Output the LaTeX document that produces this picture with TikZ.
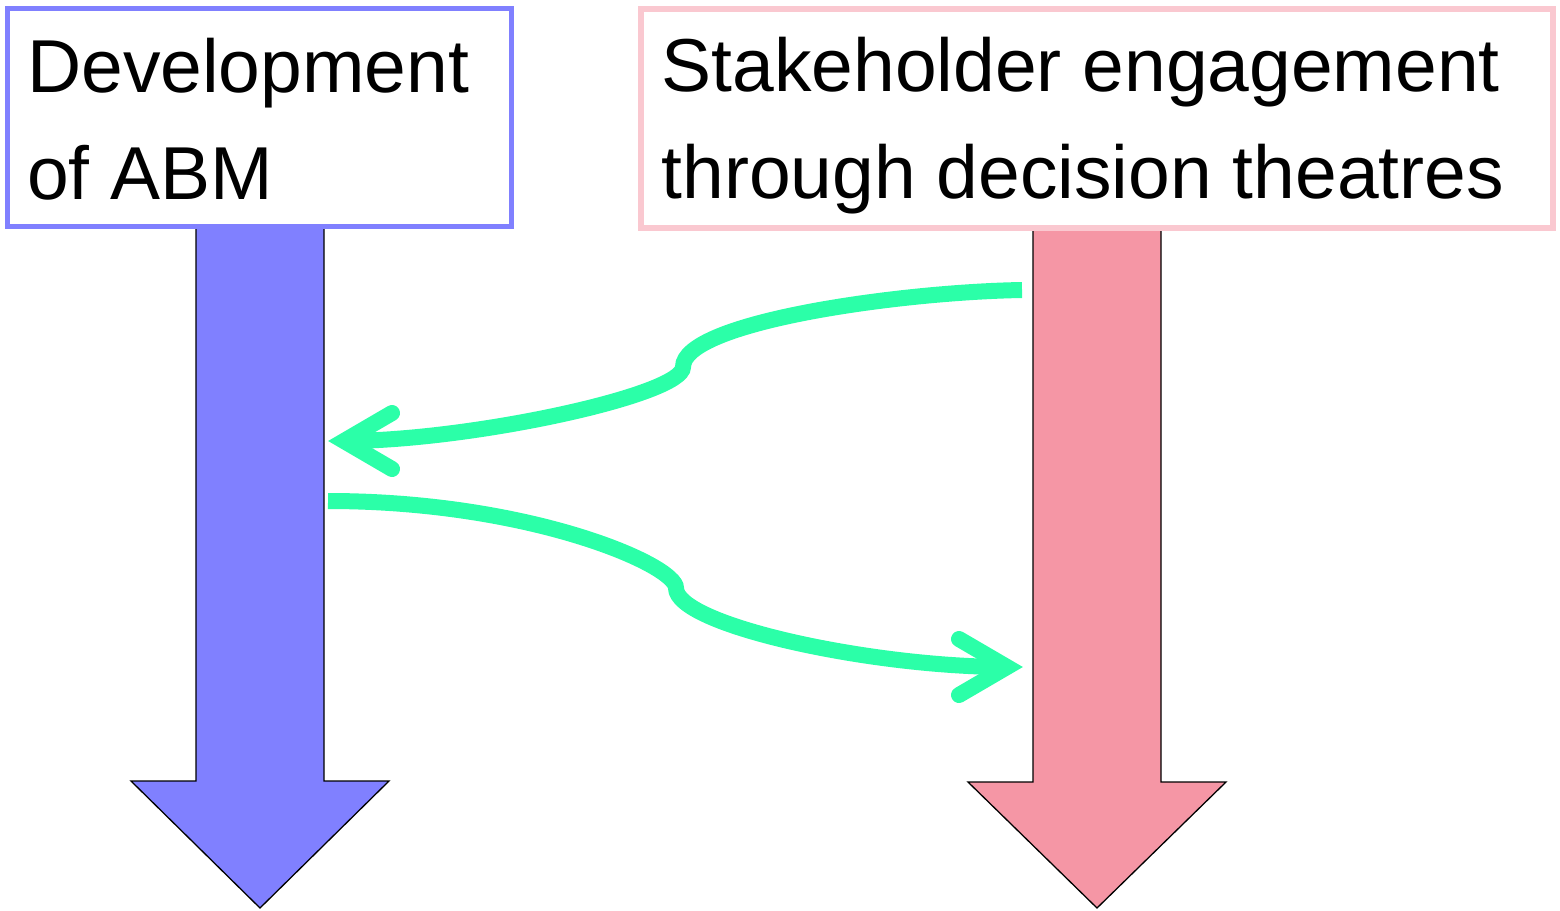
\documentclass[tikz,border=0pt]{standalone}
\usepackage{fontspec}
\setmainfont{Liberation Sans}
\usetikzlibrary{calc}
\definecolor{boxblue}{RGB}{128,128,255}
\definecolor{boxpink}{RGB}{250,200,208}
\definecolor{arrpink}{RGB}{245,150,165}
\definecolor{flowgreen}{RGB}{43,255,168}
\begin{document}
\begin{tikzpicture}[x=1pt,y=-1pt,
  bigarrow/.style={draw=black, line width=1.3pt, line join=miter},
  titlebox/.style={draw, fill=white, rectangle, inner sep=0pt, outer sep=0pt, anchor=north west},
  lbl/.style={font=\fontsize{75}{107}\selectfont, align=left, anchor=north west, inner sep=0pt},
  flow/.style={draw=flowgreen, line width=16pt, line cap=butt},
  barb/.style={draw=flowgreen, line width=16pt, line cap=round, line join=miter, miter limit=10}
]
\useasboundingbox (0,0) rectangle (1560,910);
% big down arrows
\draw[bigarrow, fill=boxblue] (196,222) -- (196,781) -- (131,781) -- (260,908) -- (389,781) -- (324,781) -- (324,222) -- cycle;
\draw[bigarrow, fill=arrpink] (1033,222) -- (1033,782) -- (968,782) -- (1097,908) -- (1226,782) -- (1161,782) -- (1161,222) -- cycle;
% title boxes
\node[titlebox, draw=boxblue, line width=5pt, minimum width=504pt, minimum height=218pt] (devbox) at (7.5,8.5) {};
\node[titlebox, draw=boxpink, line width=5.5pt, minimum width=912pt, minimum height=219pt] (stbox) at (641,9) {};
\node[lbl] (devtext) at (27,38) {Development\\of ABM};
\node[lbl] (sttext) at (661.5,37) {Stakeholder engagement\\through decision theatres};
% green flows
\coordinate (a1s) at (1022,290);
\coordinate (a1m) at (683,367);
\coordinate (a1e) at (344,441);
\draw[flow] (a1s) .. controls (900,292) and (683,322) .. (a1m) .. controls (683,395) and (470,441) .. (a1e);
\draw[barb] ($(a1e)+(48,-28)$) -- (a1e) -- ($(a1e)+(48,28)$);
\coordinate (a2s) at (328,501);
\coordinate (a2m) at (676,588);
\coordinate (a2e) at (1007,667);
\draw[flow] (a2s) .. controls (530,501) and (676,565) .. (a2m) .. controls (676,625) and (870,667) .. (a2e);
\draw[barb] ($(a2e)+(-48,-28)$) -- (a2e) -- ($(a2e)+(-48,28)$);
\end{tikzpicture}
\end{document}
